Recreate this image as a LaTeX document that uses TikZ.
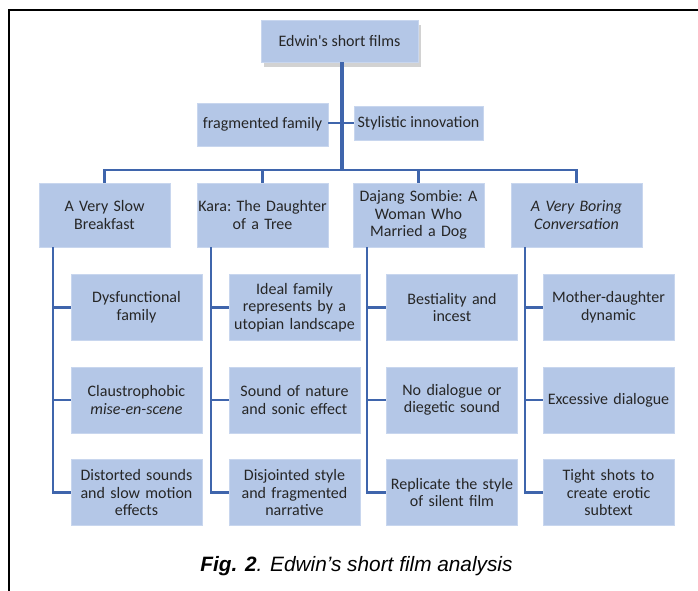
\documentclass[tikz,border=0pt]{standalone}
\usepackage{fontspec}
\setmainfont{Carlito}
\newfontfamily\capfont{Liberation Sans}
\usetikzlibrary{shadows,calc}
\definecolor{boxfill}{RGB}{180,199,231}
\definecolor{boxedge}{RGB}{200,214,238}
\definecolor{linkc}{RGB}{63,101,172}
\tikzset{
  box/.style={fill=boxfill, draw=boxedge, line width=0.6pt, align=center, inner sep=1pt,
    font=\frenchspacing\fontsize{16}{17.6}\selectfont, text=black!85},
  lvl/.style={box, minimum width=131pt, minimum height=64pt, text width=129pt},
  leaf/.style={box, minimum width=131pt, minimum height=66pt, text width=129pt},
  link/.style={draw=linkc, line width=2.4pt},
}
\begin{document}
\begin{tikzpicture}[x=1pt,y=1pt]
\useasboundingbox (0,0) rectangle (698,-591);
\fill[white] (0,0) rectangle (698,-591);
% frame
\draw[line width=2pt, black] (9,-591) -- (9,-10) -- (698,-10);
% root
\node[box, minimum width=157pt, minimum height=42pt,
  drop shadow={opacity=0.35, shadow xshift=3pt, shadow yshift=-5pt}] (root) at (339.5,-41) {Edwin\textquotesingle s short films};
\node[box, minimum width=131pt, minimum height=43pt] (frag) at (262.5,-124.5) {fragmented family};
\node[box, minimum width=129pt, minimum height=34pt] (styl) at (418.5,-123) {Stylistic innovation};
% level 1
\node[lvl] (b1) at (104.5,-215) {A Very Slow\\Breakfast};
\node[lvl] (b2) at (262.5,-215) {Kara: The Daughter\\of a Tree};
\node[lvl] (b3) at (418.5,-215) {Dajang Sombie: A\\Woman Who\\Married a Dog};
\node[lvl] (b4) at (576.5,-215) {\itshape A Very Boring\\\itshape Conversation};
% leaves
\node[leaf] (l11) at (136.5,-307.5) {Dysfunctional\\family};
\node[leaf] (l12) at (136.5,-400) {Claustrophobic\\\textit{mise-en-scene}};
\node[leaf] (l13) at (136.5,-492.5) {Distorted sounds\\and slow motion\\effects};
\node[leaf] (l21) at (294.5,-307.5) {Ideal family\\represents by a\\utopian landscape};
\node[leaf] (l22) at (294.5,-400) {Sound of nature\\and sonic effect};
\node[leaf] (l23) at (294.5,-492.5) {Disjointed style\\and fragmented\\narrative};
\node[leaf] (l31) at (452,-307.5) {Bestiality and\\incest};
\node[leaf] (l32) at (452,-400) {No dialogue or\\diegetic sound};
\node[leaf] (l33) at (452,-492.5) {Replicate the style\\of silent film};
\node[leaf] (l41) at (608.5,-307.5) {Mother-daughter\\dynamic};
\node[leaf] (l42) at (608.5,-400) {Excessive dialogue};
\node[leaf] (l43) at (608.5,-492.5) {Tight shots to\\create erotic\\subtext};
% connectors
\coordinate (bus) at (342,-170);
\draw[link, line width=3.4pt] (root.south -| bus) -- (bus);
\draw[link, line width=2pt] (frag.east |- styl.west) -- (styl.west);
\draw[link] (b1.north) |- (bus) -| (b4.north);
\draw[link] (b2.north) -- (b2.north |- bus);
\draw[link] (b3.north) -- (b3.north |- bus);
\foreach \b in {1,2,3,4}{
  \foreach \l in {1,2,3}{
    \draw[link] ($(b\b.south west)+(14,0)$) |- (l\b\l.west);
  }
}
% caption
\node[anchor=base, font=\capfont\itshape\fontsize{20.8}{24}\selectfont] (cap) at (356.5,-571) {\textbf{Fig. 2}. Edwin’s short film analysis};
\end{tikzpicture}
\end{document}
